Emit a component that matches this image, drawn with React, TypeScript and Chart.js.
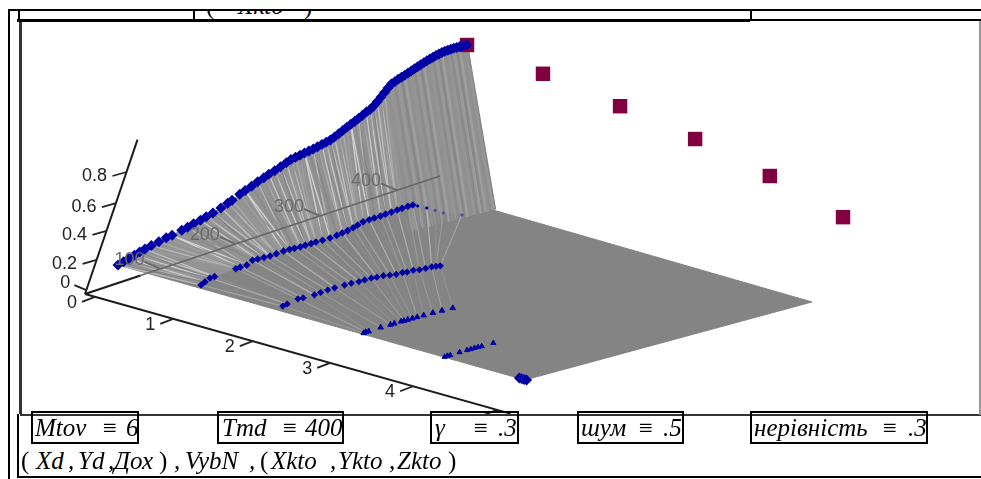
import React, { useEffect, useRef } from "react";
import { Chart, registerables } from "chart.js";

Chart.register(...registerables);

// Series: (X, T, Dox) of the blue markers.
const ridgeT = [0,4,8,12,16,20,25,31,37,42,50,55,60,66,71,77,84,90,94,101,106,112,118,124,129,135,141,147,152,157,162,167,172,177,182,187,192,197,202,207,212,217,222,227,232,237,242,247,252,257,262,267,272,277,282,287,292,297,302,307,312,317,322,327,332,337,342,347,352,357,362,367,372,377,382,387,392,397,400];
const ridgeDox = [0,.008,.016,.025,.033,.041,.05,.06,.07,.076,.09,.098,.108,.118,.128,.139,.155,.17,.18,.2,.213,.228,.243,.258,.27,.283,.298,.313,.325,.333,.34,.349,.356,.364,.372,.381,.39,.399,.412,.426,.44,.454,.468,.482,.496,.51,.525,.538,.556,.578,.602,.626,.65,.672,.685,.698,.71,.72,.733,.745,.757,.769,.781,.793,.804,.815,.826,.836,.846,.854,.862,.868,.874,.88,.885,.89,.895,.898,.9];
const row1T = [0,3,7,11,30,34,40,45,50,56,62,68,75,81,86,92,97,103,108,115,123,130,136,142,148,153,159,166,172,179,185,192,199,205,212,218,224,235,245,255,278];
const row1Dox = [.01,.018,.028,.03,.045,.048,.052,.065,.066,.068,.07,.075,.08,.083,.084,.086,.089,.092,.095,.098,.102,.108,.114,.12,.128,.136,.145,.15,.154,.158,.163,.168,.173,.177,.182,.185,.178,.165,.15,.135,.116];
const row2T = [0,4,14,19,30,36,43,50,60,67,75,81,88,94,101,108,115,122,127,134,141,148,155,160,165];
const row2Dox = [.016,.02,.03,.03,.033,.037,.041,.044,.047,.049,.05,.052,.054,.054,.055,.053,.052,.054,.053,.055,.053,.054,.056,.055,.054];
const row3T = [0,2,5,17,27,31,38,41,45,50,55,62,72,82,94];
const row3Dox = [.004,.006,.006,.01,.012,.013,.015,.015,.016,.017,.018,.019,.021,.022,.023];
const row4T = [0,3,6,16,24,28,32,36,40,53];
const row4Dox = [.001,.002,.002,.004,.005,.005,.006,.006,.006,.0074];
const row5X = [4.93,4.96,4.99,5.02];
const row5T = [0,0,0,0];
const row5Dox = [.001,.001,.001,.001];

// Maroon squares (Xkto, Ykto, Zkto).
const xkto = [0,1,2,3,4,5];
const ykto = [400,438,474,503,524,533];
const zkto = [.9,.8,.68,.565,.436,.3];

// Axis tick labels and where they sit along each axis.
const xTickLabels = ["0","1","2","3","4","5"];
const xTickAt = [-.14,.77,1.7,2.61,3.59,4.59];
const yTickLabels = ["100","200","300","400"];
const yTickAt = [.166,.352,.59,.842];
const zTickLabels = ["0","0.2","0.4","0.6","0.8"];
const zTickAt = [-.095,-.003,.0925,.191,.31];

// Camera of the 3-D plot: a homogeneous projection of (X, T, Dox) on the image plane.
const project = (X: number, T: number, D: number) => {
  const u = X / 5, v = T / 400, t = 0.387 * D;
  const w = 1 + 0.0148 * u + 0.2625 * v + t;
  return { x: (118 + 414.8 * u + 504.4 * v + 373 * t) / w, y: (265 + 120.6 * u + 0.1 * v - 553 * t) / w };
};
const axisOrigin = [-0.255, 0, -0.1066];
const axisXLevel = -0.1066;
const axisYEnd = [-2.44, 533.4, -0.1066];
const axisXEnd = 4.75;
const axisZEnd = 0.445;

const alongY = (s: number) =>
  project(axisOrigin[0] + (axisYEnd[0] - axisOrigin[0]) * s, axisOrigin[1] + (axisYEnd[1] - axisOrigin[1]) * s, axisXLevel);

const mix = (xs: number[], ts: number[], ds: number[]) => ts.map((t, i) => project(xs[i], t, ds[i]));
const constant = (v: number, n: number) => new Array(n).fill(v);

const shadesLeft = ["#b8b8b8","#8e8e8e","#cacaca","#9a9a9a","#848484","#c0c0c0","#929292","#aaaaaa","#9e9e9e","#d2d2d2","#8a8a8a"];
const shadesRight = ["#8c8c8c","#989898","#868686","#a0a0a0","#909090","#949494"];
const floorShades = ["#a4a4a4","#868686","#b0b0b0","#8c8c8c","#9a9a9a"];

function line(points: {x:number;y:number}[], color: string, width: number, order: number) {
  return { type: "scatter", data: points, showLine: true, borderColor: color, borderWidth: width, pointRadius: 0, fill: false, order, tension: 0 };
}
function marks(points: {x:number;y:number}[], style: any, radius: any, order: number, color: any = "#0000a6", border = 0) {
  return { type: "scatter", data: points, showLine: false, pointStyle: style, pointRadius: radius, backgroundColor: color, borderColor: color, borderWidth: border, order };
}

function buildDatasets() {
  const ridge = mix(constant(0, ridgeT.length), ridgeT, ridgeDox);
  const row1 = mix(constant(1, row1T.length), row1T, row1Dox);
  const row2 = mix(constant(2, row2T.length), row2T, row2Dox);
  const row3 = mix(constant(3, row3T.length), row3T, row3Dox);
  const row4 = mix(constant(4, row4T.length), row4T, row4Dox);
  const row5 = mix(row5X, row5T, row5Dox);
  const squares = mix(xkto, ykto, zkto);

  const sets: any[] = [];
  // surface silhouette
  sets.push({
    type: "scatter",
    data: [...ridge, project(0, 400, 0), project(5, 400, 0), project(5, 0, 0), project(0, 0, 0)],
    showLine: true, fill: "shape", backgroundColor: "#848484", borderColor: "#848484", borderWidth: 1, pointRadius: 0, order: 100,
  });
  // lighter wall between the ridge and the first row
  sets.push({
    type: "scatter",
    data: [...ridge, project(0, 400, 0), ...[...row1].reverse()],
    showLine: true, fill: "shape", backgroundColor: "#939393", borderColor: "#939393", borderWidth: 0, pointRadius: 0, order: 95,
  });
  // mesh streaks of the surface
  ridge.forEach((p, i) => {
    const T = ridgeT[i];
    if (T < 270) {
      const j = Math.min(Math.floor((i * row1.length * 1.22) / ridge.length), row1.length - 1);
      const k = Math.min(j + 1, row1.length - 1);
      sets.push(line([p, row1[j]], shadesLeft[i % shadesLeft.length], 1.3, 90));
      sets.push(line([p, row1[k]], shadesLeft[(i * 3 + 4) % shadesLeft.length], 1.3, 90));
    } else {
      const q = project(((400 - T) / 100) * 0.25, T, 0);
      const r = project(((400 - T) / 100) * 0.2, T + 3, 0);
      sets.push(line([p, q], shadesRight[i % shadesRight.length], 2, 90));
      sets.push(line([p, r], shadesRight[(i + 2) % shadesRight.length], 2, 90));
    }
  });
  row1.forEach((p, i) => {
    const q = row2[Math.min(Math.floor((i * row2.length) / row1.length), row2.length - 1)];
    sets.push(line([p, q], floorShades[i % floorShades.length], 1.2, 89));
  });
  row2.forEach((p, i) => {
    const q = row3[Math.min(Math.floor((i * row3.length) / row2.length), row3.length - 1)];
    sets.push(line([p, q], floorShades[i % floorShades.length], 0.7, 88));
  });

  // axes
  const xEnd = project(axisXEnd, 0, axisXLevel);
  const o = project(axisOrigin[0], axisOrigin[1], axisOrigin[2]);
  sets.push(line([o, xEnd], "#1c1c1c", 2, 120));
  sets.push(line([o, project(axisOrigin[0], 0, axisZEnd)], "#1c1c1c", 2, 120));
  sets.push(line([alongY(0.12), alongY(1)], "#666666", 1.5, 50));
  sets.push(line([o, alongY(0.12)], "#1c1c1c", 2, 120));

  // markers: the far end of the first row is half sunk in the surface, so it shows smaller and paler
  sets.push(marks(squares, "rect", 10.2, 20, "#800040"));
  sets.push(marks(ridge, "rectRot", 5.5, 5));
  sets.push(marks(row1, "rectRot", row1T.map((t) => (t > 222 ? 2 : 3.8)), 6, row1T.map((t) => (t > 240 ? "#4a4aa6" : "#0000a6"))));
  sets.push(marks(row2, "rectRot", 3.6, 6));
  sets.push(marks(row3, "triangle", 3.2, 6, "#0000a6", 1));
  sets.push(marks(row4, "triangle", 3, 6, "#0000a6", 1));
  sets.push(marks(row5, "rectRot", 5.5, 6));
  return sets;
}

// Tick marks and tick labels on the three axes.
const axisLabels = {
  id: "axisLabels",
  afterDatasetsDraw(chart: any) {
    const { ctx, scales } = chart;
    const sx = scales.x, sy = scales.y;
    const draw = (p: {x:number;y:number}, label: string, tick: number[], text: number[], color: string) => {
      const x = sx.getPixelForValue(p.x), y = sy.getPixelForValue(p.y);
      ctx.strokeStyle = color;
      ctx.lineWidth = 1.8;
      ctx.beginPath();
      ctx.moveTo(x, y);
      ctx.lineTo(x + tick[0], y + tick[1]);
      ctx.stroke();
      ctx.fillStyle = color;
      ctx.font = '18px "Liberation Sans"';
      ctx.textAlign = "center";
      ctx.textBaseline = "middle";
      ctx.fillText(label, x + text[0], y + text[1]);
    };
    xTickLabels.forEach((l, i) => draw(project(xTickAt[i], 0, axisXLevel), l, [-13, 5], [-23, i === 5 ? 14 : 6], "#222222"));
    zTickLabels.forEach((l, i) =>
      i === 0
        ? draw(project(axisOrigin[0], 0, zTickAt[i]), l, [-12, -5], [-21, -7], "#222222")
        : draw(project(axisOrigin[0], 0, zTickAt[i]), l, [-14, 4], [-32, 4], "#222222"));
    yTickLabels.forEach((l, i) => draw(alongY(yTickAt[i]), l, [-16, -7], [-31, -9], "#6a6a6a"));
  },
};

const rule = (left: number, top: number, width: number, height: number, color = "#000"): React.CSSProperties => ({
  position: "absolute", left, top, width, height, background: color,
});
const boxes = [
  [31, 411, 108, 33], [217, 411, 127, 33], [430, 411, 89, 33], [577, 411, 107, 33], [750, 411, 178, 33],
];
const italic: [string, number, number][] = [
  ["Mtov", 35, 435], ["\u2261", 101, 435], ["6", 126, 435],
  ["Tmd", 222, 435], ["\u2261", 281, 435], ["400", 305, 435],
  ["\u03b3", 435, 435], ["\u2261", 472, 435], [".3", 498, 435],
  ["\u0448\u0443\u043c", 581, 435], ["\u2261", 637, 435], [".5", 663, 435],
  ["\u043d\u0435\u0440\u0456\u0432\u043d\u0456\u0441\u0442\u044c", 754, 435], ["\u2261", 881, 435], [".3", 908, 435],
  ["Xd", 36, 468], [",", 68, 468], ["Yd", 78, 468], [",", 108, 468], ["\u0414\u043e\u0445", 114, 468],
  [",", 174, 468], ["VybN", 185, 468], [",", 249, 468],
  ["Xkto", 271, 468], [",", 330, 468], ["Ykto", 338, 468], [",", 389, 468], ["Zkto", 397, 468],
];
const upright: [string, number, number][] = [["(", 21, 468], [")", 159, 468], ["(", 260, 468], [")", 448, 468]];

const textStyle = (x: number, base: number, isItalic: boolean): React.CSSProperties => ({
  position: "absolute", left: x, top: base - 22, font: `${isItalic ? "italic " : ""}25px/29px "Liberation Serif"`, color: "#000", whiteSpace: "nowrap",
});

export default function App() {
  const ref = useRef<HTMLCanvasElement>(null);
  useEffect(() => {
    const chart = new Chart(ref.current as HTMLCanvasElement, {
      type: "scatter",
      data: { datasets: buildDatasets() as any },
      options: {
        animation: false,
        responsive: false,
        devicePixelRatio: 1,
        layout: { padding: 0, autoPadding: false },
        events: [],
        scales: {
          x: { type: "linear", min: 21, max: 980, display: false },
          y: { type: "linear", min: 22, max: 414, reverse: true, display: false },
        },
        plugins: { legend: { display: false }, tooltip: { enabled: false } },
      },
      plugins: [axisLabels],
    } as any);
    return () => chart.destroy();
  }, []);

  return (
    <div style={{ position: "fixed", left: 0, top: 0, width: 981, height: 479, overflow: "hidden", background: "#fff" }}>
      <canvas ref={ref} width={959} height={392} style={{ position: "absolute", left: 21, top: 22 }} />
      {/* frame of the worksheet */}
      <div style={rule(8, 9, 973, 2)} />
      <div style={rule(8, 9, 2, 470)} />
      <div style={rule(18, 10, 2, 10)} />
      <div style={rule(193, 10, 2, 10)} />
      <div style={rule(750, 10, 2, 10)} />
      <div style={rule(17, 19, 733, 3)} />
      <div style={rule(750, 19, 231, 2)} />
      <div style={rule(19, 22, 3, 392, "#333")} />
      <div style={rule(17, 414, 2, 64)} />
      <div style={rule(20, 414, 961, 2, "#333")} />
      <div style={rule(979, 21, 2, 394, "#999")} />
      <div style={rule(17, 476, 964, 2)} />
      {/* clipped formula above the plot */}
      <div style={{ position: "absolute", left: 200, top: 11, width: 120, height: 8, overflow: "hidden" }}>
        <span style={textStyle(6, 2, false)}>(</span>
        <span style={textStyle(38, 2, true)}>Xkto</span>
        <span style={textStyle(104, 2, false)}>)</span>
      </div>
      {boxes.map(([l, t, w, h], i) => (
        <div key={i} style={{ position: "absolute", left: l, top: t, width: w - 4, height: h - 4, border: "2px solid #000" }} />
      ))}
      {italic.map(([s, x, b], i) => <span key={i} style={textStyle(x, b, true)}>{s}</span>)}
      {upright.map(([s, x, b], i) => <span key={i} style={textStyle(x, b, false)}>{s}</span>)}
    </div>
  );
}
